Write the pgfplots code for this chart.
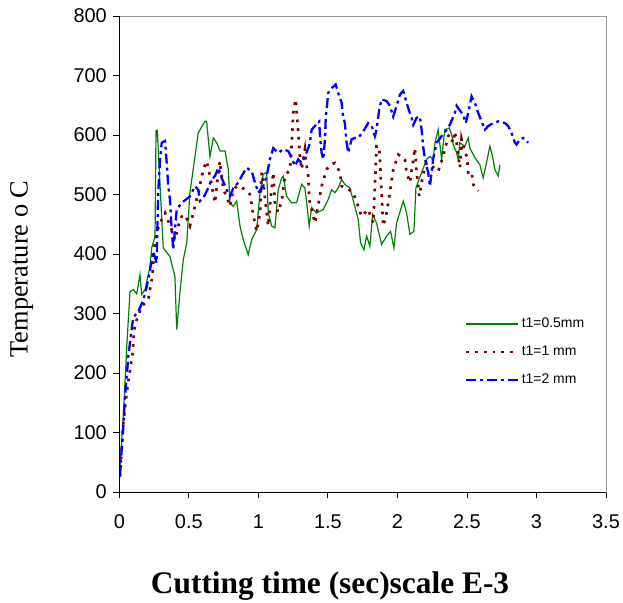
\documentclass[border=0pt]{standalone}
\usepackage{pgfplots}
\pgfplotsset{compat=1.18}
\usepackage{pgfplotstable}
\usepackage{fontspec}
\setmainfont{Liberation Sans}
\newfontfamily\serifont{Liberation Serif}
\definecolor{cgreen}{RGB}{0,128,0}
\definecolor{cred}{RGB}{128,0,0}
\definecolor{cblue}{RGB}{0,0,255}

\pgfplotstableread{
x y
0.005 40
0.034 150
0.055 250
0.077 337
0.101 340
0.125 333
0.149 365
0.161 332
0.185 340
0.221 379
0.233 410
0.257 430
0.264 607
0.273 608
0.316 410
0.364 396
0.400 362
0.413 273
0.436 335
0.460 390
0.485 419
0.508 503
0.568 604
0.616 623
0.628 623
0.640 593
0.652 564
0.676 595
0.700 587
0.725 573
0.761 573
0.784 542
0.796 486
0.820 480
0.844 489
0.868 447
0.891 424
0.927 399
0.952 424
0.988 441
1.012 503
1.035 534
1.060 537
1.071 469
1.096 447
1.119 444
1.143 508
1.168 528
1.179 531
1.203 497
1.239 486
1.275 486
1.311 517
1.335 511
1.366 447
1.383 478
1.419 469
1.467 475
1.503 492
1.527 508
1.551 503
1.574 511
1.599 525
1.622 517
1.658 511
1.694 480
1.718 458
1.735 419
1.759 407
1.779 430
1.802 413
1.822 466
1.850 452
1.886 416
1.922 430
1.951 438
1.975 410
1.994 452
2.042 489
2.066 469
2.090 433
2.119 438
2.133 511
2.174 537
2.210 559
2.234 564
2.257 558
2.270 587
2.293 609
2.318 559
2.341 609
2.372 612
2.390 601
2.401 584
2.426 570
2.437 559
2.449 587
2.485 581
2.509 595
2.521 578
2.557 562
2.593 550
2.617 528
2.636 548
2.665 581
2.684 564
2.701 542
2.725 531
2.737 550
}\greendata

\pgfplotstableread{
x y
0.005 26
0.029 115
0.053 166
0.077 205
0.096 233
0.106 272
0.125 289
0.161 312
0.208 323
0.233 357
0.244 379
0.249 407
0.269 436
0.293 452
0.329 469
0.377 441
0.400 424
0.424 447
0.449 463
0.472 466
0.508 447
0.544 480
0.568 503
0.604 542
0.628 556
0.652 531
0.688 486
0.700 514
0.724 556
0.748 508
0.772 497
0.796 480
0.820 508
0.844 514
0.868 514
0.904 508
0.940 500
0.968 460
0.988 438
1.012 470
1.024 537
1.040 510
1.060 469
1.071 447
1.083 480
1.107 537
1.119 486
1.141 470
1.168 489
1.191 531
1.227 542
1.239 581
1.251 637
1.268 660
1.287 604
1.299 564
1.311 542
1.335 576
1.347 548
1.359 531
1.366 491
1.383 475
1.407 452
1.455 514
1.491 542
1.515 550
1.551 553
1.587 537
1.599 514
1.635 511
1.682 503
1.718 480
1.743 463
1.766 469
1.790 475
1.815 458
1.826 452
1.838 514
1.850 581
1.869 581
1.886 503
1.898 447
1.922 469
1.946 503
1.970 542
2.006 567
2.030 564
2.054 559
2.066 537
2.090 520
2.114 559
2.126 578
2.138 537
2.150 514
2.157 497
2.185 534
2.210 553
2.246 548
2.293 539
2.329 564
2.365 598
2.377 601
2.401 587
2.413 606
2.426 587
2.449 545
2.461 593
2.485 570
2.500 564
2.509 537
2.533 539
2.545 517
2.581 506
}\reddata

\pgfplotstableread{
x y
0.005 26
0.017 71
0.029 110
0.041 160
0.053 194
0.065 228
0.082 261
0.096 286
0.106 295
0.137 303
0.173 323
0.197 345
0.221 373
0.233 391
0.244 404
0.269 385
0.273 436
0.280 503
0.293 559
0.305 587
0.329 590
0.341 553
0.352 514
0.364 492
0.377 441
0.388 407
0.413 475
0.449 486
0.508 497
0.544 514
0.568 508
0.580 489
0.604 494
0.640 511
0.664 525
0.688 531
0.712 545
0.736 528
0.772 508
0.796 497
0.820 511
0.856 520
0.880 531
0.916 545
0.952 539
0.976 520
0.999 503
1.035 514
1.060 531
1.083 559
1.107 578
1.143 570
1.179 576
1.215 573
1.239 562
1.263 548
1.287 559
1.311 553
1.335 564
1.359 578
1.371 587
1.383 609
1.407 615
1.419 620
1.438 623
1.443 598
1.455 570
1.467 559
1.479 593
1.485 631
1.503 671
1.515 676
1.556 685
1.574 671
1.599 654
1.610 631
1.622 620
1.635 587
1.646 570
1.671 593
1.694 595
1.718 595
1.754 606
1.790 620
1.815 615
1.838 598
1.850 609
1.869 643
1.886 660
1.922 657
1.946 649
1.970 631
1.994 649
2.018 668
2.042 674
2.066 654
2.085 640
2.102 629
2.114 617
2.138 629
2.162 631
2.174 609
2.185 581
2.198 559
2.221 537
2.234 514
2.257 560
2.282 587
2.318 598
2.354 609
2.377 617
2.413 637
2.426 649
2.444 643
2.473 634
2.492 620
2.509 637
2.533 665
2.557 654
2.581 637
2.605 623
2.629 609
2.653 615
2.689 620
2.725 623
2.773 620
2.797 615
2.821 603
2.845 587
2.857 584
2.881 593
2.905 595
2.940 587
}\bluedata

\begin{document}
\begin{tikzpicture}
\begin{axis}[
  scale only axis,
  width=486.7bp, height=476bp,
  xmin=0, xmax=3.5, ymin=0, ymax=800,
  xtick={0,0.5,1,1.5,2,2.5,3,3.5},
  ytick={0,100,200,300,400,500,600,700,800},
  xticklabels={0,0.5,1,1.5,2,2.5,3,3.5},
  /pgf/number format/assume math mode=true,
  tick align=outside,
  xtick pos=bottom, ytick pos=left,
  major tick length=6bp,
  tick style={black, line width=0.8bp},
  axis line style={draw=gray!80, line width=0.8bp},
  ticklabel style={font=\fontsize{20}{22}\selectfont},
  xticklabel style={yshift=-13bp},
  yticklabel style={xshift=-3bp},
  ylabel={\serifont Temperature o C},
  ylabel style={font=\fontsize{26.5}{28}\selectfont, at={(axis description cs:-0.2005,0.4685)}, anchor=center},
  xlabel={\serifont\bfseries Cutting time (sec)scale E-3},
  xlabel style={font=\fontsize{31.5}{33}\selectfont, at={(axis description cs:0.433,-0.197)}, anchor=center},
  legend style={draw=none, fill=none, at={(axis cs:2.485,297)}, anchor=north west,
    font=\fontsize{14}{16}\selectfont, row sep=11bp, inner sep=0pt,
    nodes={inner sep=2bp, text height=10bp, text depth=3bp},
    /tikz/every even column/.append style={column sep=0bp}},
  legend cell align=left,
  legend image code/.code={\draw[#1] (0bp,0bp) -- (52bp,0bp);},
  after end axis/.code={
    \draw[black, line width=0.8bp] (rel axis cs:0,1) -- (rel axis cs:0,0) -- (rel axis cs:1,0);
    \coordinate (O) at (rel axis cs:0,0);
  },
]
\addplot[cgreen, line width=1.2bp] table[x=x,y=y] {\greendata};
\addlegendentry{t1=0.5mm}
\addplot[cred, line width=2.7bp, dash pattern=on 2.7bp off 6bp] table[x=x,y=y] {\reddata};
\addlegendentry{t1=1 mm}
\addplot[cblue, line width=2.3bp, dash pattern=on 10bp off 4bp on 3bp off 4bp] table[x=x,y=y] {\bluedata};
\addlegendentry{t1=2 mm}
\end{axis}
\pgfresetboundingbox
\path ([shift={(-119.3bp,-111bp)}]O) rectangle ([shift={(503.7bp,492bp)}]O);
\end{tikzpicture}
\end{document}
